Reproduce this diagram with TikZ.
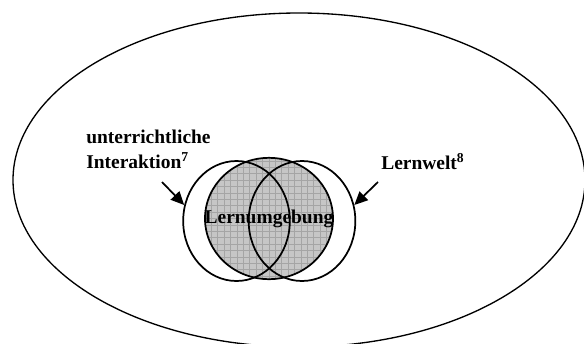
\documentclass[tikz,border=0pt]{standalone}
\usepackage{fontspec}
\setmainfont{Liberation Serif}
\usetikzlibrary{arrows.meta}
\usetikzlibrary{shapes.geometric}
\usetikzlibrary{positioning}
\definecolor{raster}{RGB}{198, 198, 198}
\definecolor{rasterline}{RGB}{165, 165, 165}

\tikzset{
    kreis/.style={draw, ellipse, line width=1.3pt, inner sep=0pt,
                  minimum width=80pt, minimum height=90pt},
    etikett/.style={font=\fontsize{14.6}{18.75}\selectfont\bfseries, inner sep=0pt},
    zeiger/.style={-{Triangle[length=10pt,width=9pt]}, line width=1.3pt}
}

\begin{document}
\begin{tikzpicture}[x=0.75pt, y=-0.75pt]
            \useasboundingbox (0,0) rectangle (584,343);
            \draw[line width=1pt] (299,180) ellipse (286 and 167);
            % Lernumgebung (gerastert)
            \node[kreis, minimum width=96pt, minimum height=91pt, fill=raster, etikett,
                  path picture={\draw[rasterline, line width=0.5pt, step=4.8pt]
                      (path picture bounding box.south west) grid (path picture bounding box.north east);}]
                 (umgebung) at (269,218.5) {};
            \node[etikett] at (umgebung.center) {Lernumgebung};
            \node[kreis] (interaktion) at (236.5,221) {};
            \node[kreis] (lernwelt)    at (302,221)   {};
            % Beschriftungen
            \node[etikett, anchor=west, align=left] (l1) at (86,149.5) {unterrichtliche\\Interaktion\textsuperscript{7}};
            \node[etikett, anchor=west] (l2) at (381,162) {Lernwelt\textsuperscript{8}};
            \coordinate (z1) at (162,182);
            \coordinate (z2) at (378,182);
            \draw[zeiger] (z1) -- (interaktion.163);
            \draw[zeiger] (z2) -- (lernwelt.17);
        \end{tikzpicture}
\end{document}
